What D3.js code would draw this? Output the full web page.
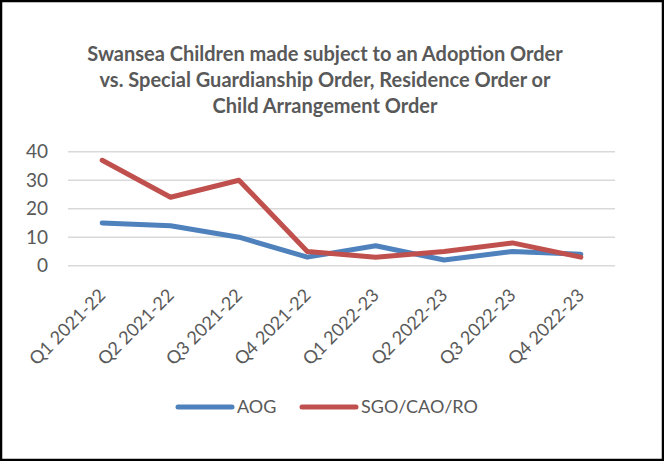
<!doctype html>
<html lang="en">
  <head>
    <meta charset="utf-8">
    <title>Swansea adoption orders</title>
    <script src="https://d3js.org/d3.v7.min.js"></script>
    <style>
      body { margin: 0; background: #fff; }
      svg text { font-family: Lato, "Open Sans", sans-serif; fill: #595959; }
    </style>
  </head>
  <body>

    <div id="my_dataviz"></div>

    <script>

      // data
      var quarters = ["Q1 2021-22", "Q2 2021-22", "Q3 2021-22", "Q4 2021-22",
                      "Q1 2022-23", "Q2 2022-23", "Q3 2022-23", "Q4 2022-23"];
      var aog = [15, 14, 10, 3, 7, 2, 5, 4];
      var sgo = [37, 24, 30, 5, 3, 5, 8, 3];
      var yTicks = [0, 10, 20, 30, 40];
      var seriesNames = ["AOG", "SGO/CAO/RO"];
      var titleLines = ["Swansea Children made subject to an Adoption Order",
                        "vs. Special Guardianship Order, Residence Order or",
                        "Child Arrangement Order"];

      var width = 664, height = 461;
      var colors = ["#4f81bd", "#c0504d"];

      var svg = d3.select("#my_dataviz")
        .append("svg")
          .attr("width", width)
          .attr("height", height);

      // frame
      svg.append("rect")
        .attr("x", 1).attr("y", 1)
        .attr("width", width - 2).attr("height", height - 2)
        .attr("fill", "#fff")
        .attr("stroke", "#000")
        .attr("stroke-width", 2.5);

      // title
      svg.append("text")
        .attr("text-anchor", "middle")
        .style("font-weight", "bold")
        .style("font-size", "20px")
        .selectAll("tspan")
        .data(titleLines)
        .join("tspan")
          .attr("x", 325)
          .attr("y", function(d, i) { return 61 + i * 26; })
          .text(function(d) { return d; });

      // scales
      var x = d3.scaleBand()
        .domain(quarters)
        .range([68, 615]);

      var y = d3.scaleLinear()
        .domain([0, 40])
        .range([265.7, 151.7]);

      // gridlines
      svg.append("g")
        .selectAll("line")
        .data(yTicks)
        .join("line")
          .attr("x1", 68).attr("x2", 615)
          .attr("y1", function(d) { return y(d); })
          .attr("y2", function(d) { return y(d); })
          .attr("stroke", "#d9d9d9")
          .attr("stroke-width", 1.5);

      // y axis labels
      var yAxis = d3.axisLeft(y).tickValues(yTicks).tickSize(0).tickPadding(0);
      var gy = svg.append("g")
        .attr("transform", "translate(48,0)")
        .call(yAxis);
      gy.select(".domain").remove();
      gy.selectAll("text")
        .style("font-size", "19px")
        .attr("fill", "#595959");

      // x axis labels, rotated
      var xAxis = d3.axisBottom(x).tickSize(0).tickPadding(0);
      var gx = svg.append("g")
        .attr("transform", "translate(0,292)")
        .call(xAxis);
      gx.select(".domain").remove();
      gx.selectAll("text")
        .style("font-size", "18px")
        .attr("fill", "#595959")
        .attr("text-anchor", "end")
        .attr("y", 0)
        .attr("dy", "0.35em")
        .attr("transform", "rotate(-45)");

      // lines
      var line = d3.line()
        .x(function(d, i) { return x(quarters[i]) + x.bandwidth() / 2; })
        .y(function(d) { return y(d); });

      [aog, sgo].forEach(function(values, k) {
        svg.append("path")
          .datum(values)
          .attr("fill", "none")
          .attr("stroke", colors[k])
          .attr("stroke-width", 5)
          .attr("stroke-linejoin", "round")
          .attr("stroke-linecap", "round")
          .attr("d", line);
      });

      // legend
      var legendX = [178, 302];
      var legend = svg.append("g");
      seriesNames.forEach(function(name, k) {
        legend.append("line")
          .attr("x1", legendX[k]).attr("x2", legendX[k] + 54)
          .attr("y1", 407).attr("y2", 407)
          .attr("stroke", colors[k])
          .attr("stroke-width", 5)
          .attr("stroke-linecap", "round");
        legend.append("text")
          .attr("x", legendX[k] + 59)
          .attr("y", 407)
          .attr("dy", "0.35em")
          .style("font-size", "18px")
          .text(name);
      });

    </script>

  </body>
</html>
